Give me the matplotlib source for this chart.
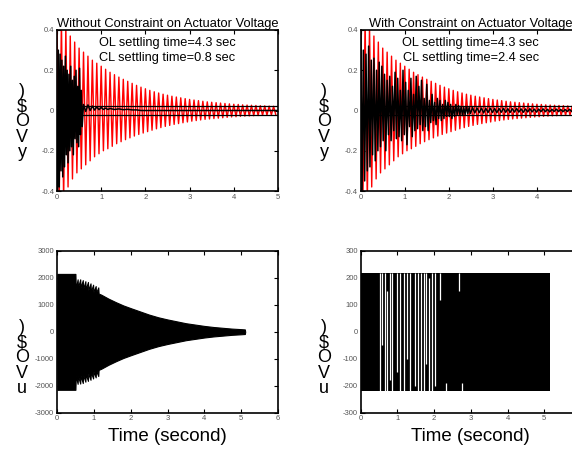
import numpy as np
import matplotlib
matplotlib.use("Agg")
import matplotlib.pyplot as plt

plt.rcParams["axes.unicode_minus"] = False

# ---------------- data ----------------
# open-loop (red) response: positive peaks every 0.1 s, negative peaks between
ol_step = 0.1
ol_upper = [0.45, 0.45, 0.42, 0.37, 0.34, 0.31, 0.29, 0.27, 0.25, 0.235,
            0.22, 0.205, 0.19, 0.178, 0.166, 0.155, 0.145, 0.135, 0.125, 0.116,
            0.108, 0.10, 0.093, 0.087, 0.081, 0.076, 0.071, 0.067, 0.063, 0.059,
            0.055, 0.052, 0.049, 0.046, 0.043, 0.041, 0.039, 0.037, 0.035, 0.033,
            0.031, 0.030, 0.028, 0.027, 0.026, 0.025, 0.024, 0.023, 0.022, 0.021]
ol_lower = [-0.45, -0.45, -0.38, -0.34, -0.31, -0.29, -0.27, -0.25, -0.23, -0.215,
            -0.20, -0.19, -0.178, -0.165, -0.155, -0.145, -0.136, -0.127, -0.119, -0.112,
            -0.105, -0.098, -0.091, -0.085, -0.079, -0.074, -0.069, -0.065, -0.061, -0.057,
            -0.053, -0.050, -0.047, -0.044, -0.042, -0.040, -0.038, -0.036, -0.034, -0.032,
            -0.031, -0.029, -0.028, -0.027, -0.026, -0.025, -0.024, -0.023, -0.022, -0.021]

# closed-loop response without constraint
cl1_t = [0.00, 0.01, 0.03, 0.05, 0.07, 0.09, 0.11, 0.13, 0.15, 0.17, 0.19, 0.21,
         0.23, 0.25, 0.27, 0.29, 0.31, 0.33, 0.35, 0.37, 0.39, 0.41, 0.43, 0.45,
         0.47, 0.49, 0.51, 0.53, 0.55, 0.57, 0.60, 0.65, 0.70, 0.75, 0.80, 0.85,
         0.90, 0.95, 1.00, 1.05, 1.10, 1.15, 1.20, 1.30, 1.40, 1.50, 1.60, 1.70,
         1.80, 1.90, 5.00]
cl1_y = [0.0, -0.42, 0.30, -0.38, 0.28, -0.30, 0.25, -0.33, 0.22, -0.28, 0.27, -0.22,
         0.20, -0.26, 0.18, -0.20, 0.22, -0.18, 0.15, -0.22, 0.17, -0.14, 0.20, -0.16,
         0.12, -0.18, 0.21, -0.12, 0.10, -0.08, 0.03, -0.005, 0.028, 0.0, 0.022, 0.002,
         0.018, 0.004, 0.015, 0.005, 0.012, 0.005, 0.010, 0.005, 0.008, 0.004, 0.006, 0.003,
         0.003, 0.0, 0.0]

# closed-loop response with constraint (samples every 0.03 s, then a tail every 0.05 s)
cl2_step = 0.03
cl2_y = [0.42, -0.42, 0.30, -0.35, 0.28, -0.30, 0.32, -0.28,
         0.25, -0.22, 0.26, -0.25, 0.20, -0.20, 0.24, -0.18, 0.22,
         -0.15, 0.18, -0.20, 0.15, -0.12, 0.17, -0.15, 0.12, -0.10, 0.19, -0.14, 0.16,
         -0.13, 0.10, -0.15, 0.20, -0.12,
         0.14, -0.17, 0.10, -0.08, 0.16, -0.13, 0.08, -0.10, 0.17, -0.09, 0.12, -0.07,
         0.15, -0.10, 0.06, -0.08, 0.13,
         -0.10, 0.05, -0.06, 0.08, -0.05, 0.04, -0.07, 0.06, -0.04, 0.05, -0.05, 0.03,
         -0.04, 0.05, -0.03, 0.04,
         -0.03, 0.03, -0.04, 0.02, -0.03, 0.03, -0.02, 0.025, -0.02, 0.02, -0.025, 0.015,
         -0.02, 0.02, -0.015, 0.015, -0.015]
cl2_tail_step = 0.05
cl2_tail = [0.014, -0.012, 0.013, -0.011, 0.012, -0.012, 0.011, -0.010, 0.012, -0.010,
            0.010, -0.011, 0.010, -0.009, 0.011, -0.009, 0.009, -0.010, 0.009, -0.008,
            0.010, -0.008, 0.008, -0.009, 0.008, -0.007, 0.009, -0.007, 0.007, -0.008,
            0.007, -0.006, 0.008, -0.006, 0.006, -0.007, 0.006, -0.005, 0.007, -0.005,
            0.005, -0.006, 0.005, -0.005, 0.006, -0.005, 0.005, -0.004, 0.005, -0.004]

# control voltage without constraint: envelope of the dense oscillation
u1_t = [0.00, 0.01, 0.02, 0.50, 0.51, 0.56, 0.57, 0.63, 0.64, 0.70, 0.71, 0.77,
        0.78, 0.84, 0.85, 0.91, 0.92, 0.98, 0.99, 1.05, 1.06, 1.12, 1.13, 1.20,
        1.40, 1.60, 1.80, 2.00, 2.25, 2.50, 2.75, 3.00, 3.25, 3.50, 3.75, 4.00,
        4.25, 4.50, 4.75, 5.00, 5.10, 5.11]
u1_hi = [0, 2150, 2150, 2150, 1600, 1950, 1650, 1950, 1650, 1920, 1600, 1880,
         1580, 1850, 1550, 1800, 1500, 1750, 1480, 1700, 1450, 1650, 1420, 1380,
         1230, 1100, 980, 880, 760, 640, 540, 460, 390, 320, 270, 220,
         180, 150, 120, 100, 90, 0]
u1_lo = [0, -2150, -2150, -2150, -1620, -1930, -1640, -1920, -1630, -1900, -1600, -1850,
         -1570, -1820, -1540, -1780, -1500, -1730, -1470, -1690, -1440, -1640, -1410, -1370,
         -1220, -1090, -970, -870, -750, -630, -530, -450, -380, -310, -260, -210,
         -170, -140, -110, -90, -80, 0]

# control voltage with constraint: saturated band and the gaps in it
u2_t = [0.0, 5.15]
u2_hi = [220, 220]
u2_lo = [-220, -220]
gap_t = [0.52, 0.58, 0.65, 0.72, 0.80, 0.86, 0.98, 1.06, 1.18, 1.25, 1.33, 1.47,
         1.55, 1.63, 1.72, 1.78, 1.87, 1.95, 2.02, 2.17, 2.33, 2.68, 2.75]
gap_lo = [-220, -50, -220, -220, -180, -220, -150, -220, -220, -100, -220, -200,
          -220, -220, -220, -120, -220, -220, -200, 120, -220, 150, -220]
gap_hi = [220, 220, 220, 150, 220, 220, 220, 220, 220, 220, 220, 220,
          220, 220, 220, 220, 200, 220, 220, 220, -190, 220, -190]

band = 0.02

titles = ["Without Constraint on Actuator Voltage", "With Constraint on Actuator Voltage"]
notes = [["OL settling time=4.3 sec", "CL settling time=0.8 sec"],
         ["OL settling time=4.3 sec", "CL settling time=2.4 sec"]]
y_ticks = [-0.4, -0.2, 0, 0.2, 0.4]
y_ticklabels = ["-0.4", "-0.2", "0", "0.2", "0.4"]
x_ticks_top = [0, 1, 2, 3, 4, 5]
x_ticks_tr = [0, 1, 2, 3, 4]
u1_ticks = [-3000, -2000, -1000, 0, 1000, 2000, 3000]
u2_ticks = [-300, -200, -100, 0, 100, 200, 300]
x_ticks_bot = [0, 1, 2, 3, 4, 5, 6]
x_ticks_br = [0, 1, 2, 3, 4, 5]
ylab_top = [")", "\\$", "O", "V", "y"]
ylab_bot = [")", "\\$", "O", "V", "u"]
xlabel = "Time (second)"

# ---------------- figure ----------------
fam = ["Liberation Sans", "DejaVu Sans"]

fig = plt.figure(figsize=(5.72, 4.49), dpi=100)
W, H = 572, 449
def rect(x0, y0, x1, y1):
    return [x0 / W, 1 - y1 / H, (x1 - x0) / W, (y1 - y0) / H]

ax_tl = fig.add_axes(rect(57, 30, 278, 191))
ax_tr = fig.add_axes(rect(360.7, 30, 581, 191))
ax_bl = fig.add_axes(rect(57, 251, 278, 412.7))
ax_br = fig.add_axes(rect(360.7, 251, 581, 412.7))

def style(ax):
    for s in ax.spines.values():
        s.set_linewidth(1.2)
        s.set_color("black")
    ax.tick_params(direction="in", length=3, width=0.8, top=True, right=True,
                   labelsize=5.5, labelcolor="#555555", pad=2)
    for lab in ax.get_xticklabels() + ax.get_yticklabels():
        lab.set_family(fam)

def ol_line():
    t, y = [], []
    for k, (a, b) in enumerate(zip(ol_upper, ol_lower)):
        t += [k * ol_step, k * ol_step + ol_step / 2]
        y += [a, b]
    return t, y

for i, ax in enumerate([ax_tl, ax_tr]):
    t, y = ol_line()
    ax.plot(t, y, color="red", lw=1.0, zorder=2)
    ax.axhline(band, color="black", lw=0.9, zorder=3)
    ax.axhline(-band, color="black", lw=0.9, zorder=3)
    if i == 0:
        ax.plot(cl1_t, cl1_y, color="black", lw=1.1, zorder=4)
        ax.set_xticks(x_ticks_top)
    else:
        t2 = [k * cl2_step for k in range(len(cl2_y))]
        t0 = t2[-1]
        t2 += [t0 + (k + 1) * cl2_tail_step for k in range(len(cl2_tail))]
        ax.plot(t2, cl2_y + cl2_tail, color="black", lw=1.1, zorder=4)
        ax.set_xticks(x_ticks_tr)
    ax.set_xlim(0, 5)
    ax.set_ylim(-0.4, 0.4)
    ax.set_yticks(y_ticks)
    ax.set_yticklabels(y_ticklabels)
    style(ax)
    ax.set_title(titles[i], fontsize=9.3, family=fam, pad=2)
    ax.text(0.5, 0.955, notes[i][0] + "\n" + notes[i][1], transform=ax.transAxes,
            ha="center", va="top", fontsize=9.2, family=fam, linespacing=1.3)

ax_bl.fill_between(u1_t, u1_lo, u1_hi, color="black", lw=0.8, edgecolor="black")
ax_bl.set_xlim(0, 6)
ax_bl.set_ylim(-3000, 3000)
ax_bl.set_xticks(x_ticks_bot)
ax_bl.set_yticks(u1_ticks)
style(ax_bl)

ax_br.fill_between(u2_t, u2_lo, u2_hi, color="black", lw=0)
ax_br.vlines(gap_t, gap_lo, gap_hi, color="white", lw=0.9)
ax_br.set_xlim(0, 6)
ax_br.set_ylim(-300, 300)
ax_br.set_xticks(x_ticks_br)
ax_br.set_yticks(u2_ticks)
style(ax_br)

for ax in [ax_bl, ax_br]:
    ax.set_xlabel(xlabel, fontsize=13.5, family=fam, labelpad=4)

# stacked y labels
def ylab(yc, chars, xpix):
    fig.text(xpix / W, 1 - yc / H, "\n".join(chars), ha="center", va="center",
             fontsize=13, family=fam, linespacing=0.85)

ylab(122, ylab_top, 22)
ylab(122, ylab_top, 324)
ylab(358, ylab_bot, 22)
ylab(358, ylab_bot, 324)

fig.savefig("out.png", dpi=100)
